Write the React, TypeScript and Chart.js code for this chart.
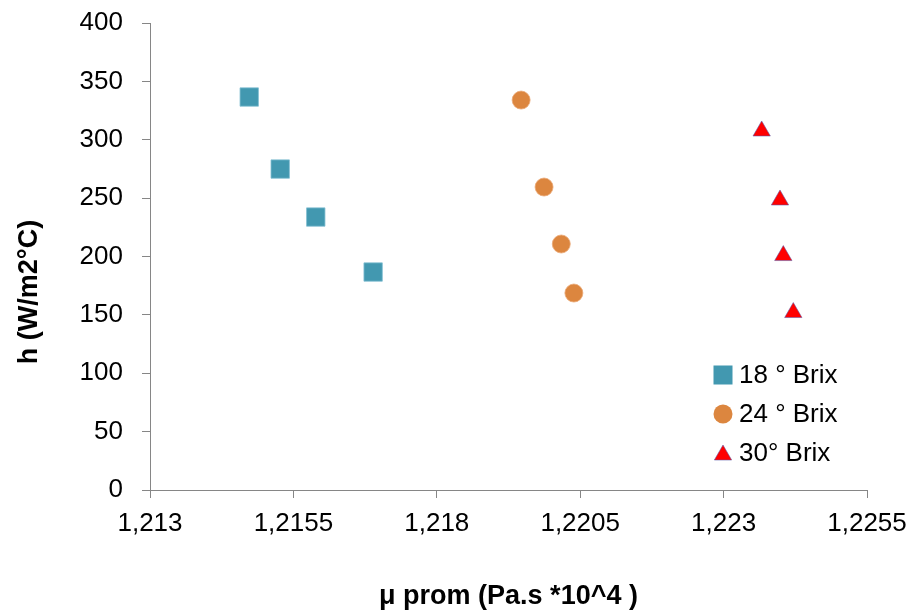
import React, { useEffect, useRef } from 'react';
import { Chart, registerables } from 'chart.js';

Chart.register(...registerables);

const seriesNames = ['18 ° Brix', '24 ° Brix', '30° Brix'];
const brix18X = [1.21473, 1.21527, 1.21589, 1.21689];
const brix18Y = [336.6, 274.9, 233.8, 186.7];
const brix24X = [1.21947, 1.21987, 1.22017, 1.22039];
const brix24Y = [334.0, 259.5, 210.7, 168.7];
const brix30X = [1.223664, 1.223983, 1.224041, 1.224215];
const brix30Y = [307.5, 248.4, 200.8, 152.0];
const xTicks = [1.213, 1.2155, 1.218, 1.2205, 1.223, 1.2255];
const yTicks = [0, 50, 100, 150, 200, 250, 300, 350, 400];
const xTitle = 'μ prom (Pa.s *10^4 )';
const yTitle = 'h (W/m2°C)';

const BLUE = '#4298B0';
const ORANGE = '#DC863F';
const RED = '#FF0000';
const AXIS = '#868686';
const FONT = '"Liberation Sans", Arial, sans-serif';

const toPoints = (xs: number[], ys: number[]) => xs.map((x, i) => ({ x, y: ys[i] }));

const legendPlugin = {
  id: 'customLegend',
  afterDraw(chart: any) {
    const ctx = chart.ctx as CanvasRenderingContext2D;
    const mx = 723;
    const tx = 739;
    const rows = [375, 414, 453];
    ctx.save();
    ctx.fillStyle = BLUE;
    ctx.fillRect(mx - 9.5, rows[0] - 9.5, 19, 19);
    ctx.beginPath();
    ctx.fillStyle = ORANGE;
    ctx.arc(mx, rows[1], 9.5, 0, Math.PI * 2);
    ctx.fill();
    const r = 10;
    const cy = rows[2] + 2;
    ctx.beginPath();
    ctx.fillStyle = RED;
    ctx.moveTo(mx, cy - r);
    ctx.lineTo(mx + r * Math.sin(Math.PI / 3), cy + r / 2);
    ctx.lineTo(mx - r * Math.sin(Math.PI / 3), cy + r / 2);
    ctx.closePath();
    ctx.fill();
    ctx.strokeStyle = 'rgba(90,90,170,0.55)';
    ctx.lineWidth = 1;
    ctx.stroke();
    ctx.fillStyle = '#000';
    ctx.font = `26px ${FONT}`;
    ctx.textAlign = 'left';
    ctx.textBaseline = 'middle';
    seriesNames.forEach((n, i) => ctx.fillText(n, tx, rows[i] + 1));
    ctx.save();
    ctx.translate(30, 292);
    ctx.rotate(-Math.PI / 2);
    ctx.font = `bold 27px ${FONT}`;
    ctx.textAlign = 'center';
    ctx.textBaseline = 'middle';
    ctx.fillText(yTitle, 0, 0);
    ctx.restore();
    ctx.restore();
  },
};

export default function App() {
  const ref = useRef<HTMLCanvasElement | null>(null);
  useEffect(() => {
    if (!ref.current) return;
    const chart = new Chart(ref.current, {
      type: 'scatter',
      data: {
        datasets: [
          {
            label: seriesNames[0],
            data: toPoints(brix18X, brix18Y),
            pointStyle: 'rect',
            pointRadius: 13,
            backgroundColor: BLUE,
            borderColor: 'rgba(130,190,210,0.8)',
            borderWidth: 1,
          },
          {
            label: seriesNames[1],
            data: toPoints(brix24X, brix24Y),
            pointStyle: 'circle',
            pointRadius: 9,
            backgroundColor: ORANGE,
            borderColor: 'rgba(235,170,120,0.8)',
            borderWidth: 1,
          },
          {
            label: seriesNames[2],
            data: toPoints(brix30X, brix30Y),
            pointStyle: 'triangle',
            pointRadius: 10,
            backgroundColor: RED,
            borderColor: 'rgba(90,90,170,0.55)',
            borderWidth: 1,
          },
        ],
      },
      options: {
        responsive: false,
        animation: false,
        events: [],
        layout: { padding: { top: 23, right: 50, left: 0, bottom: 0 } },
        plugins: {
          legend: { display: false },
          tooltip: { enabled: false },
        },
        scales: {
          x: {
            type: 'linear',
            min: xTicks[0],
            max: xTicks[xTicks.length - 1],
            afterBuildTicks: (s: any) => {
              s.ticks = xTicks.map((v) => ({ value: v }));
            },
            afterFit: (s: any) => {
              s.height = 123;
            },
            ticks: {
              autoSkip: false,
              maxRotation: 0,
              minRotation: 0,
              padding: 10,
              color: '#000',
              font: { family: FONT, size: 26 },
              callback: (v: any) => String(v).replace('.', ','),
            },
            grid: {
              display: true,
              drawOnChartArea: false,
              drawTicks: true,
              tickLength: 8,
              color: AXIS,
            },
            border: { display: true, color: AXIS, width: 1 },
            title: {
              display: true,
              text: xTitle,
              color: '#000',
              font: { family: FONT, size: 27, weight: 'bold' },
              padding: { top: 0, bottom: 0 },
            },
          },
          y: {
            type: 'linear',
            min: yTicks[0],
            max: yTicks[yTicks.length - 1],
            afterBuildTicks: (s: any) => {
              s.ticks = yTicks.map((v) => ({ value: v }));
            },
            afterFit: (s: any) => {
              s.width = 150;
              s.paddingTop = 12;
              s.paddingBottom = 12;
            },
            ticks: {
              autoSkip: false,
              padding: 19,
              color: '#000',
              font: { family: FONT, size: 26 },
            },
            grid: {
              display: true,
              drawOnChartArea: false,
              drawTicks: true,
              tickLength: 8,
              color: AXIS,
            },
            border: { display: true, color: AXIS, width: 1 },
          },
        },
      },
      plugins: [legendPlugin],
    });
    return () => chart.destroy();
  }, []);
  return (
    <div style={{ position: 'absolute', left: 0, top: 0, width: 917, height: 613, background: '#fff' }}>
      <canvas ref={ref} width={917} height={613} />
    </div>
  );
}
